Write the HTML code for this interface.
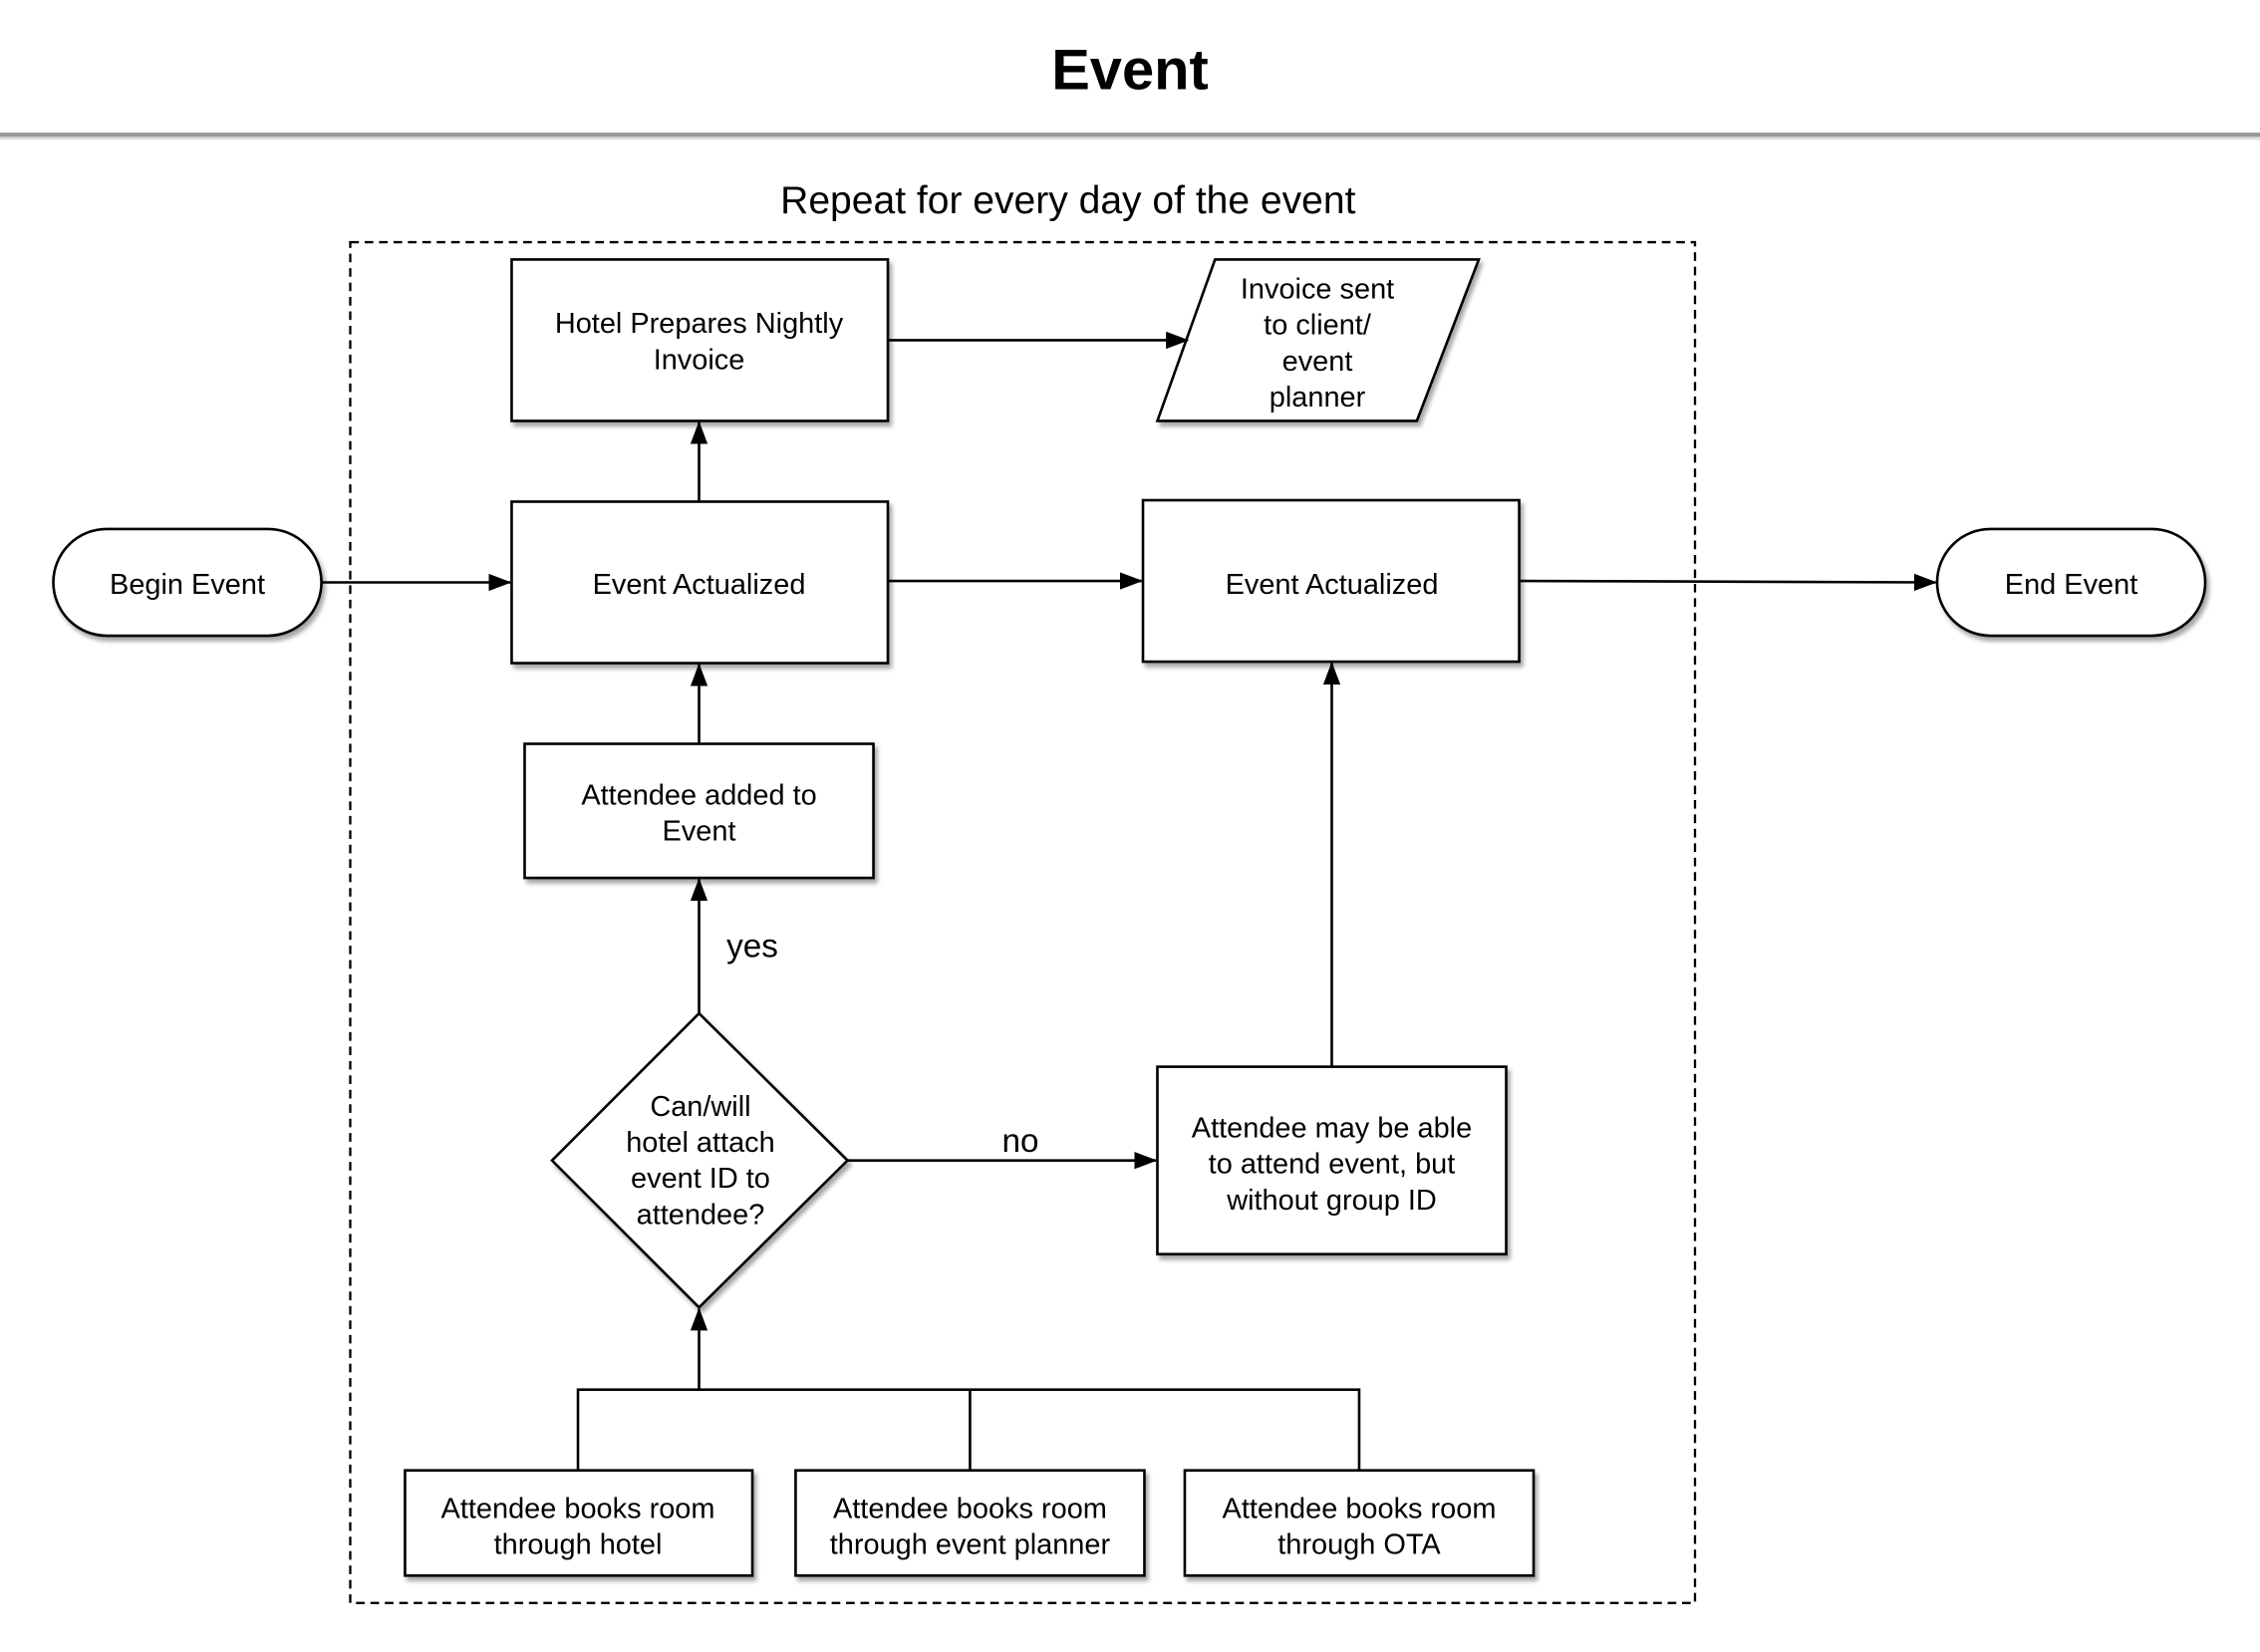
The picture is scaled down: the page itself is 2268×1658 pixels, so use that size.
<!DOCTYPE html>
<html><head><meta charset="utf-8"><style>
html,body{margin:0;padding:0;background:#fff;}
svg{display:block;}
text{font-family:"Liberation Sans",Arial,sans-serif;fill:#000;}
</style></head><body>
<svg width="2268" height="1658" viewBox="0 0 1568 1146" preserveAspectRatio="none" xmlns="http://www.w3.org/2000/svg">
<defs>
<filter id="sh" x="-10%" y="-10%" width="130%" height="130%">
<feDropShadow dx="2" dy="3" stdDeviation="1.5" flood-color="#000" flood-opacity="0.35"/>
</filter>
<marker id="ar" markerWidth="16" markerHeight="12" refX="15" refY="6" orient="auto" markerUnits="userSpaceOnUse">
<path d="M0,0 L16,6 L0,12 z" fill="#000"/>
</marker>
</defs>
<rect width="1568" height="1146" fill="#fff"/>
<text x="784" y="62" font-size="40" font-weight="bold" text-anchor="middle">Event</text>
<rect x="0" y="92" width="1568" height="3" fill="#999"/>
<rect x="0" y="95" width="1568" height="2" fill="#ddd"/>
<text x="741" y="148" font-size="27" text-anchor="middle">Repeat for every day of the event</text>
<rect x="243" y="168" width="933" height="944" fill="none" stroke="#000" stroke-width="1.6" stroke-dasharray="6,4"/>

<g fill="#fff" stroke="#000" stroke-width="1.8" filter="url(#sh)">
<rect x="355" y="180" width="261" height="112"/>
<polygon points="843,180 1026,180 983,292 803,292"/>
<rect x="355" y="348" width="261" height="112"/>
<rect x="793" y="347" width="261" height="112"/>
<rect x="37" y="367" width="186" height="74" rx="37"/>
<rect x="1344" y="367" width="186" height="74" rx="37"/>
<rect x="364" y="516" width="242" height="93"/>
<polygon points="485,703 588,805 485,907 383,805"/>
<rect x="803" y="740" width="242" height="130"/>
<rect x="281" y="1020" width="241" height="73"/>
<rect x="552" y="1020" width="242" height="73"/>
<rect x="822" y="1020" width="242" height="73"/>
</g>

<g stroke="#000" stroke-width="1.8" fill="none">
<line x1="223" y1="404" x2="354" y2="404" marker-end="url(#ar)"/>
<line x1="616" y1="403" x2="792" y2="403" marker-end="url(#ar)"/>
<line x1="1055" y1="403" x2="1343" y2="404" marker-end="url(#ar)"/>
<line x1="485" y1="348" x2="485" y2="293" marker-end="url(#ar)"/>
<line x1="616" y1="236" x2="824" y2="236" marker-end="url(#ar)"/>
<line x1="485" y1="516" x2="485" y2="461" marker-end="url(#ar)"/>
<line x1="485" y1="703" x2="485" y2="610" marker-end="url(#ar)"/>
<line x1="588" y1="805" x2="802" y2="805" marker-end="url(#ar)"/>
<line x1="924" y1="740" x2="924" y2="460" marker-end="url(#ar)"/>
<polyline points="401,1020 401,964 943,964 943,1020"/>
<line x1="673" y1="964" x2="673" y2="1020"/>
<line x1="485" y1="964" x2="485" y2="908" marker-end="url(#ar)"/>
</g>

<g font-size="20" text-anchor="middle">
<text x="485" y="231">Hotel Prepares Nightly</text>
<text x="485" y="256">Invoice</text>
<text x="914" y="207">Invoice sent</text>
<text x="914" y="232">to client/</text>
<text x="914" y="257">event</text>
<text x="914" y="282">planner</text>
<text x="485" y="412">Event Actualized</text>
<text x="924" y="412">Event Actualized</text>
<text x="130" y="412">Begin Event</text>
<text x="1437" y="412">End Event</text>
<text x="485" y="558">Attendee added to</text>
<text x="485" y="583">Event</text>
<text x="486" y="774">Can/will</text>
<text x="486" y="799">hotel attach</text>
<text x="486" y="824">event ID to</text>
<text x="486" y="849">attendee?</text>
<text x="924" y="789">Attendee may be able</text>
<text x="924" y="814">to attend event, but</text>
<text x="924" y="839">without group ID</text>
<text x="401" y="1053">Attendee books room</text>
<text x="401" y="1078">through hotel</text>
<text x="673" y="1053">Attendee books room</text>
<text x="673" y="1078">through event planner</text>
<text x="943" y="1053">Attendee books room</text>
<text x="943" y="1078">through OTA</text>
</g>
<text x="522" y="664" font-size="23" text-anchor="middle">yes</text>
<text x="708" y="799" font-size="23" text-anchor="middle">no</text>
</svg>
</body></html>
